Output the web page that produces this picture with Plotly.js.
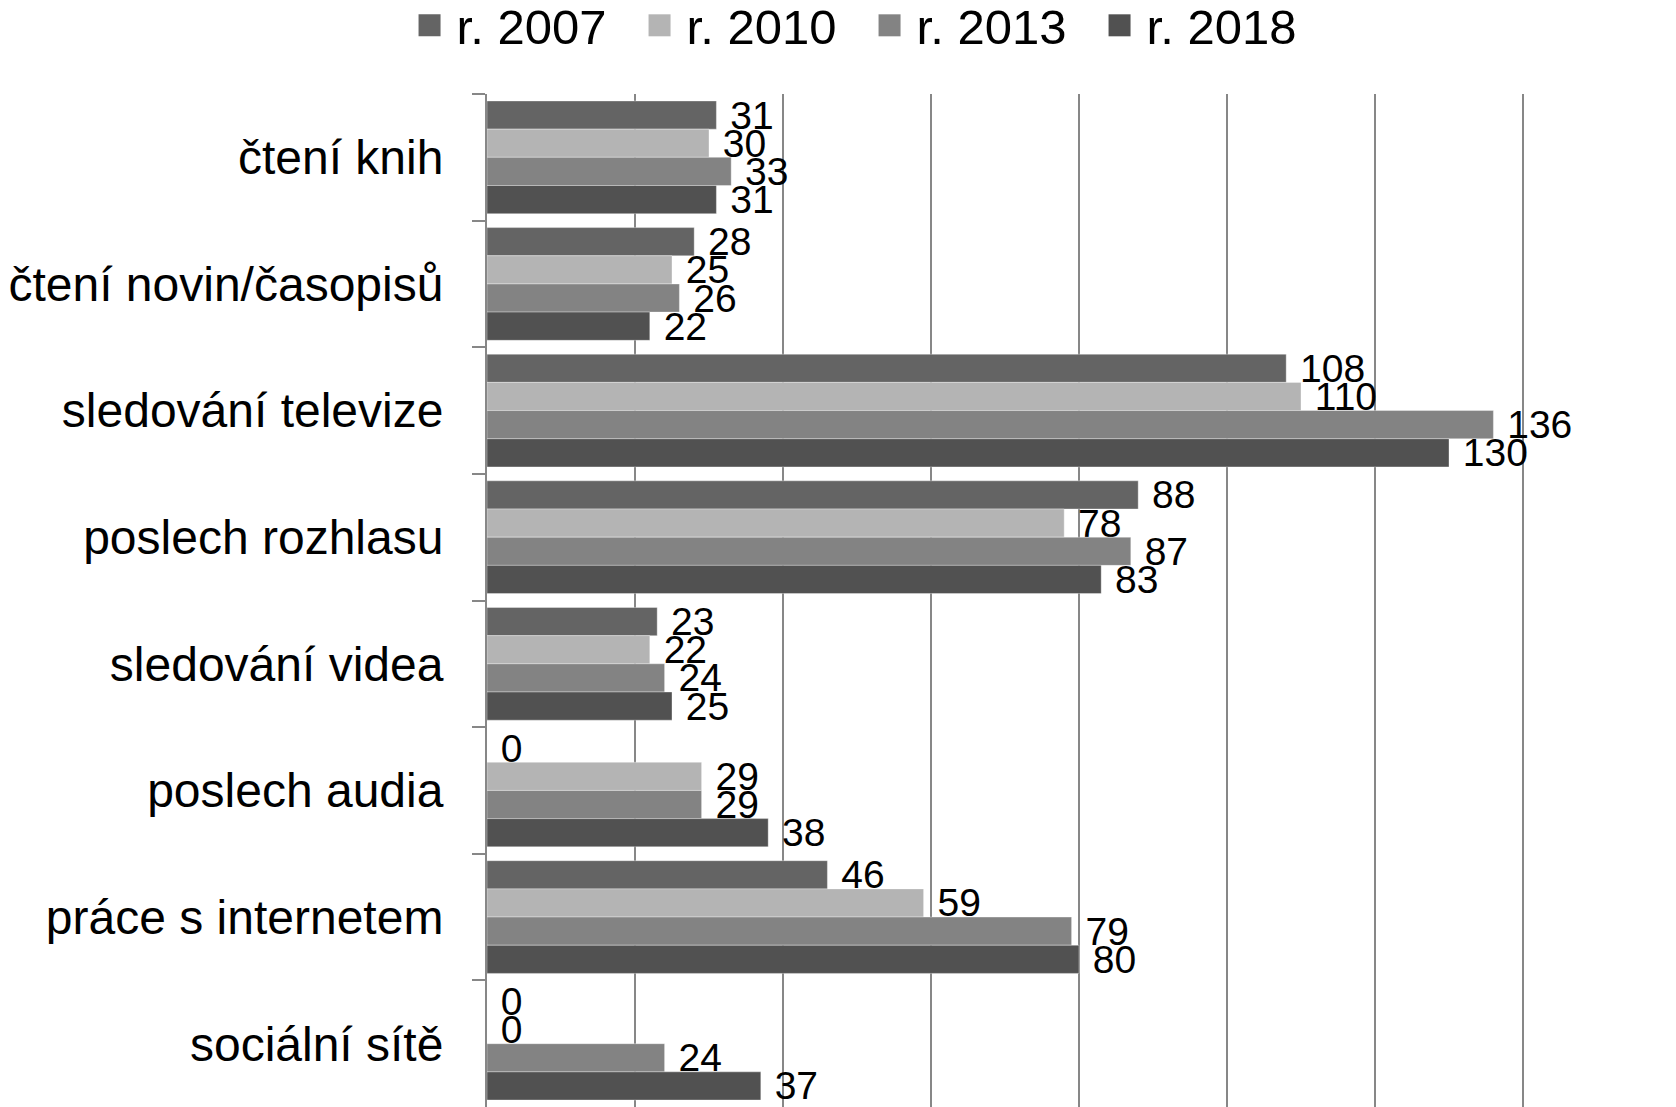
<!DOCTYPE html>
<html>
<head>
<meta charset="utf-8">
<script src="https://cdn.plot.ly/plotly-3.0.1.min.js"></script>
<style>html,body{margin:0;padding:0;background:#fff;}#chart{width:1676px;height:1107px;}</style>
</head>
<body>
<div id="chart"></div>
<script>
const categories = ["čtení knih", "čtení novin/časopisů", "sledování televize", "poslech rozhlasu", "sledování videa", "poslech audia", "práce s internetem", "sociální sítě"];
const seriesNames = ["r. 2007", "r. 2010", "r. 2013", "r. 2018"];
const v2007 = [31, 28, 108, 88, 23, 0, 46, 0];
const v2010 = [30, 25, 110, 78, 22, 29, 59, 0];
const v2013 = [33, 26, 136, 87, 24, 29, 79, 24];
const v2018 = [31, 22, 130, 83, 25, 38, 80, 37];
const colors = ["#646464", "#b4b4b4", "#838383", "#515151"];

const FONT = "Liberation Sans, Arial, sans-serif";
const allValues = [v2007, v2010, v2013, v2018];
const traces = allValues.map((vals, i) => ({
  type: "bar",
  orientation: "h",
  name: seriesNames[i],
  y: categories,
  x: vals,
  marker: {color: colors[i], line: {color: "rgba(255,255,255,0.35)", width: 1}},
  text: vals.map(String),
  texttemplate: "\u00a0%{text}",
  textposition: "outside",
  cliponaxis: false,
  constraintext: "none",
  textfont: {family: FONT, size: 39, color: "#000"},
  hoverinfo: "x+y"
}));

const layout = {
  width: 1676,
  height: 1107,
  margin: {l: 487, r: 5, t: 94, b: 0},
  paper_bgcolor: "#fff",
  plot_bgcolor: "#fff",
  font: {family: FONT, color: "#000"},
  barmode: "group",
  bargap: 0.11,
  bargroupgap: 0,
  showlegend: true,
  legend: {
    orientation: "h",
    xref: "container", yref: "container",
    x: 0.523, xanchor: "center",
    y: 0.977, yanchor: "middle",
    font: {family: FONT, size: 49, color: "#000"},
    traceorder: "normal",
    entrywidth: 185,
    itemclick: false
  },
  xaxis: {
    range: [0, 160],
    dtick: 20,
    tick0: 0,
    showgrid: true,
    gridcolor: "#878787",
    gridwidth: 2,
    zeroline: false,
    showline: false,
    showticklabels: false,
    fixedrange: true
  },
  yaxis: {
    type: "category",
    autorange: "reversed",
    tickson: "boundaries",
    ticks: "outside",
    ticklen: 13,
    tickwidth: 2,
    tickcolor: "#878787",
    showline: true,
    linecolor: "#878787",
    linewidth: 2,
    showgrid: false,
    ticklabelstandoff: 32,
    tickfont: {family: FONT, size: 48, color: "#000"},
    fixedrange: true
  }
};

Plotly.newPlot("chart", traces, layout, {displayModeBar: false, staticPlot: true}).then(gd => {
  // enlarge the legend swatches to match the reference's square markers
  gd.querySelectorAll(".legend .legendpoints path").forEach(p => {
    p.setAttribute("d", "M4,11H-18V-11H4Z");
    p.style.strokeWidth = "0px";
  });
});
</script>
</body>
</html>
